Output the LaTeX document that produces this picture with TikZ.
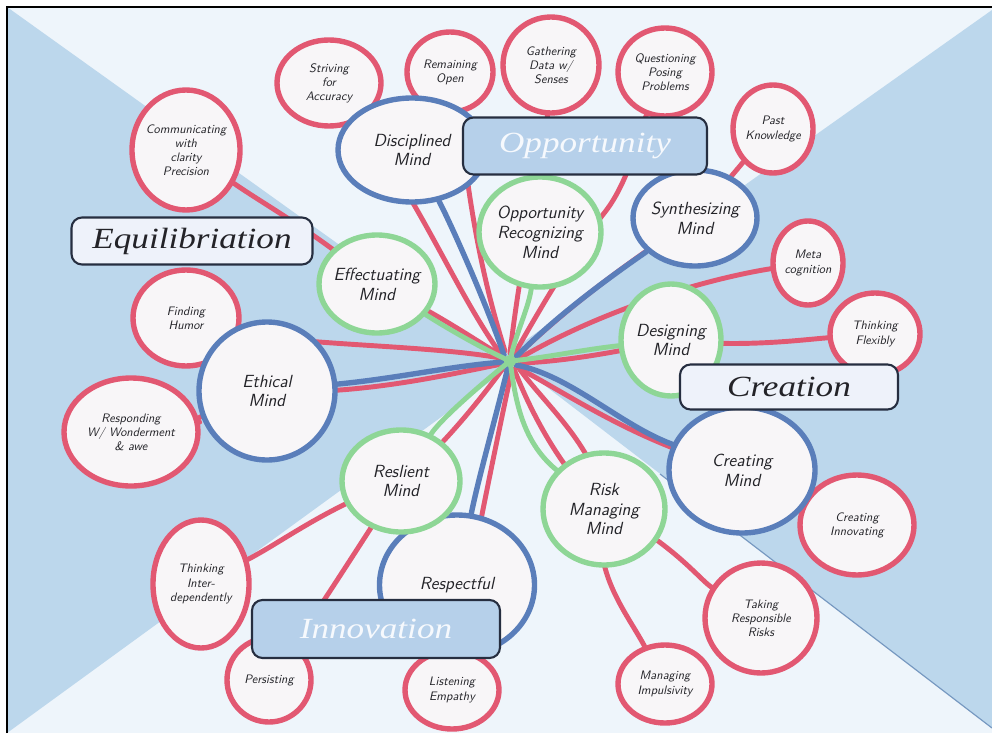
\documentclass[tikz,border=0pt]{standalone}
\usepackage{fontspec}
\newfontfamily\titlefont[FakeStretch=1.2]{Liberation Serif}
\usetikzlibrary{shapes.geometric}

\definecolor{bgpale}{RGB}{238,245,251}
\definecolor{bgblue}{RGB}{188,215,236}
\definecolor{edgeblue}{RGB}{118,152,192}
\definecolor{habitred}{RGB}{226,88,114}
\definecolor{mindblue}{RGB}{90,126,186}
\definecolor{mindgreen}{RGB}{142,214,150}
\definecolor{blobfill}{RGB}{248,246,248}
\definecolor{boxline}{RGB}{38,46,64}
\definecolor{boxpale}{RGB}{238,242,250}
\definecolor{boxblue}{RGB}{182,208,234}
\definecolor{inkgray}{RGB}{35,35,40}
\definecolor{titlewhite}{RGB}{246,249,253}

\pgfdeclarelayer{backdrop}
\pgfdeclarelayer{links}
\pgfsetlayers{backdrop,links,main}

\tikzset{
  blob/.style 2 args={ellipse, minimum width=#1*0.03cm, minimum height=#2*0.03cm,
    inner sep=0pt, fill=blobfill, line width=4.6pt},
  habit/.style 2 args={blob={#1}{#2}, draw=habitred},
  mindb/.style 2 args={blob={#1}{#2}, draw=mindblue},
  mindg/.style 2 args={blob={#1}{#2}, draw=mindgreen},
  habittext/.style={font=\sffamily\itshape\fontsize{10.5}{12}\selectfont,
    text=inkgray, align=center, inner sep=0pt},
  mindtext/.style={font=\sffamily\itshape\fontsize{15}{17}\selectfont,
    text=inkgray, align=center, inner sep=0pt},
  redlink/.style={draw=habitred, line width=4.2pt, line cap=round},
  bluelink/.style={draw=mindblue, line width=4.6pt, line cap=round},
  greenlink/.style={draw=mindgreen, line width=4.2pt, line cap=round},
  theme/.style={rectangle, rounded corners=9pt, draw=boxline, line width=1.8pt,
    inner sep=0pt, font=\titlefont\itshape\fontsize{25}{28}\selectfont},
  palebox/.style={theme, fill=boxpale, text=inkgray},
  bluebox/.style={theme, fill=boxblue, text=titlewhite},
}

\begin{document}
\begin{tikzpicture}[x=0.03cm, y=-0.03cm]
\useasboundingbox (0,0) rectangle (992,733);

% backdrop: pale field with two blue wedges meeting near the hub
\begin{pgfonlayer}{backdrop}
  \fill[white] (0,0) rectangle (992,733);
  \fill[bgpale] (7,7) rectangle (992,733);
  \fill[bgblue] (7,7) -- (510,367) -- (7,733) -- cycle;
  \fill[bgblue] (992,10) -- (505,355) -- (992,728) -- cycle;
  \draw[edgeblue, line width=1pt] (660,474) -- (992,728);
  \draw[black, line width=1.1pt] (7,733) -- (7,7) -- (992,7);
\end{pgfonlayer}

\coordinate (hub) at (510,361);

% habits of mind (red)
\node[habit={104}{86}, label={[habittext]center:{Striving\\for\\Accuracy}}] (striv) at (329,83) {};
\node[habit={86}{80}, label={[habittext]center:{Remaining\\Open}}] (remain) at (450,72) {};
\node[habit={96}{96}, label={[habittext]center:{Gathering\\Data w/\\Senses}}] (gather) at (551,65) {};
\node[habit={94}{88}, label={[habittext]center:{Questioning\\Posing\\Problems}}] (quest) at (665,72) {};
\node[habit={80}{88}, label={[habittext]center:{Past\\Knowledge}}] (past) at (773,129) {};
\node[habit={108}{120}, label={[habittext]center:{Communicating\\with\\clarity\\Precision}}] (comm) at (186,150) {};
\node[habit={106}{96}, label={[habittext]center:{Finding\\Humor}}] (humor) at (186,318) {};
\node[habit={134}{108}, label={[habittext]center:{Responding\\W/ Wonderment\\\& awe}}] (respond) at (131,432) {};
\node[habit={70}{84}, label={[habittext]center:{Meta\\cognition}}] (meta) at (808,263) {};
\node[habit={90}{82}, label={[habittext]center:{Thinking\\Flexibly}}] (flex) at (875,334) {};
\node[habit={96}{128}, label={[habittext]center:{Thinking\\Inter-\\dependently}}] (inter) at (201,584) {};
\node[habit={84}{84}, label={[habittext]center:{Persisting}}] (persist) at (269,680) {};
\node[habit={94}{78}, label={[habittext]center:{Listening\\Empathy}}] (listen) at (452,690) {};
\node[habit={94}{78}, label={[habittext]center:{Managing\\Impulsivity}}] (impuls) at (665,684) {};
\node[habit={112}{110}, label={[habittext]center:{Taking\\Responsible\\Risks}}] (risks) at (761,618) {};
\node[habit={114}{100}, label={[habittext]center:{Creating\\Innovating}}] (innov) at (857,525) {};

% minds (blue)
\node[mindb={148}{104}, label={[mindtext]center:{Disciplined\\Mind}}] (disc) at (412,150) {};
\node[mindb={124}{96}, label={[mindtext]center:{Synthesizing\\Mind}}] (synth) at (695,218) {};
\node[mindb={136}{138}, label={[mindtext]center:{Ethical\\Mind}}] (ethical) at (267,391) {};
\node[mindb={155}{140}, label={[mindtext]center:{Respectful}}] (respect) at (457,585) {};
\node[mindb={146}{126}, label={[mindtext]center:{Creating\\Mind}}] (creating) at (742,470) {};

% minds (green)
\node[mindg={122}{110}, label={[mindtext]center:{Opportunity\\Recognizing\\Mind}}] (opprec) at (540,232) {};
\node[mindg={116}{98}, label={[mindtext]center:{Effectuating\\Mind}}] (effect) at (377,284) {};
\node[mindg={100}{112}, label={[mindtext]center:{Designing\\Mind}}] (design) at (671,340) {};
\node[mindg={118}{102}, label={[mindtext]center:{Reslient\\Mind}}] (resil) at (401,481) {};
\node[mindg={122}{112}, label={[mindtext]center:{Risk\\Managing\\Mind}}] (riskm) at (604,509) {};

% connectors, drawn underneath the bubbles
\begin{pgfonlayer}{links}
  \draw[redlink] (striv) .. controls (420,200) and (455,290) .. ([shift={(-10,-8)}]hub);
  \draw[redlink] (remain) .. controls (465,150) and (470,240) .. ([shift={(-5,-10)}]hub);
  \draw[redlink] (gather) .. controls (545,150) and (522,250) .. ([shift={(0,-8)}]hub);
  \draw[redlink] (quest) .. controls (640,130) and (630,180) .. (605,212)
                 .. controls (575,250) and (545,300) .. ([shift={(5,-8)}]hub);
  \draw[redlink] (past) .. controls (745,160) and (720,190) .. (synth.center)
                 .. controls (650,248) and (580,295) .. ([shift={(8,-6)}]hub);
  \draw[redlink] (comm) .. controls (265,205) and (315,232) .. (effect.center)
                 .. controls (440,315) and (475,340) .. ([shift={(-8,-5)}]hub);
  \draw[redlink] (humor) .. controls (290,345) and (430,345) .. ([shift={(-10,-3)}]hub);
  \draw[redlink] (respond) .. controls (180,425) and (220,405) .. (ethical.center)
                 .. controls (360,396) and (450,374) .. ([shift={(-8,3)}]hub);
  \draw[redlink] (meta) .. controls (730,275) and (620,300) .. ([shift={(10,-3)}]hub);
  \draw[redlink] (flex) .. controls (800,340) and (740,348) .. (design.center)
                 .. controls (620,352) and (560,362) .. ([shift={(10,2)}]hub);
  \draw[redlink] (inter) .. controls (285,540) and (330,505) .. (resil.center)
                 .. controls (440,450) and (480,400) .. ([shift={(-6,6)}]hub);
  \draw[redlink] (persist) .. controls (315,615) and (360,545) .. (resil.center);
  \draw[redlink] (listen) .. controls (465,600) and (480,520) .. ([shift={(2,8)}]hub);
  \draw[redlink] (impuls) .. controls (625,610) and (590,570) .. (riskm.center)
                 .. controls (560,470) and (530,410) .. ([shift={(4,8)}]hub);
  \draw[redlink] (risks) .. controls (700,580) and (670,540) .. (riskm.center)
                 .. controls (600,450) and (545,405) .. ([shift={(8,6)}]hub);
  \draw[redlink] (innov) .. controls (830,510) and (800,495) .. (creating.center)
                 .. controls (640,445) and (570,395) .. ([shift={(10,8)}]hub);

  \draw[bluelink] (disc) .. controls (450,222) and (485,300) .. ([shift={(-6,-6)}]hub);
  \draw[bluelink] (synth) .. controls (620,270) and (560,312) .. ([shift={(6,-4)}]hub);
  \draw[bluelink] (ethical) .. controls (400,378) and (450,366) .. ([shift={(-6,1)}]hub);
  \draw[bluelink] (respect) .. controls (478,480) and (495,420) .. ([shift={(-2,6)}]hub);
  \draw[bluelink] (creating) .. controls (620,425) and (570,375) .. ([shift={(6,4)}]hub);

  \draw[greenlink] (opprec) .. controls (528,310) and (515,335) .. (hub);
  \draw[greenlink] (effect) .. controls (450,330) and (485,350) .. (hub);
  \draw[greenlink] (design) .. controls (580,350) and (545,358) .. (hub);
  \draw[greenlink] (resil) .. controls (440,420) and (480,385) .. (hub);
  \draw[greenlink] (riskm) .. controls (520,440) and (515,395) .. (hub);
  \fill[mindgreen] (hub) circle (6);
\end{pgfonlayer}

% theme boxes on top
\node[palebox, minimum width=241*0.03cm, minimum height=47*0.03cm] (equil) at (192,241) {Equilibriation};
\node[bluebox, minimum width=244*0.03cm, minimum height=57*0.03cm] (oppbox) at (585,146) {Opportunity};
\node[palebox, minimum width=218*0.03cm, minimum height=45*0.03cm] (creabox) at (789,387) {Creation};
\node[bluebox, minimum width=248*0.03cm, minimum height=58*0.03cm] (innobox) at (376,629) {Innovation};
\end{tikzpicture}
\end{document}
